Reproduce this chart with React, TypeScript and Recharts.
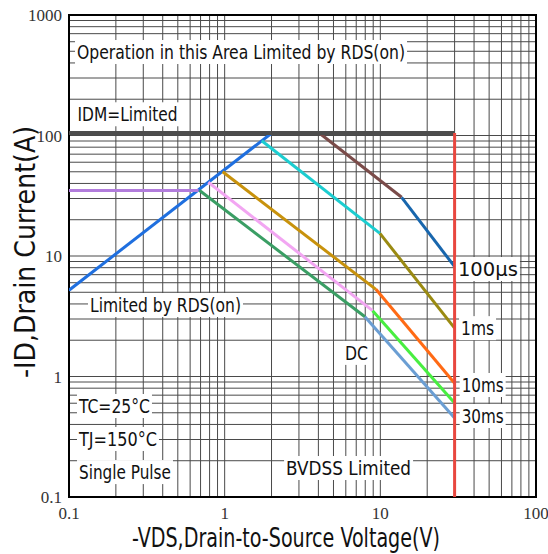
import { LineChart, Line, XAxis, YAxis, CartesianGrid, ReferenceDot, ReferenceArea } from 'recharts'

// log axes: decades plus the 2..9 minor lines inside each decade
const X_DECADES = [0.1, 1, 10, 100]
const X_LABELS = ['0.1', '1', '10', '100']
const Y_DECADES = [0.1, 1, 10, 100, 1000]
const Y_LABELS = ['0.1', '1', '10', '100', '1000']
const MANTISSAS = [1, 2, 3, 4, 5, 6, 7, 8, 9]

const gridFor = (decades: number[]) => {
    const out: number[] = []
    decades.slice(0, -1).forEach((d) => MANTISSAS.forEach((m) => out.push(+(d * m).toPrecision(3))))
    out.push(decades[decades.length - 1])
    return out
}
const X_GRID = gridFor(X_DECADES)
const Y_GRID = gridFor(Y_DECADES)

// boundary lines (V, A)
const idmLimit = [{ v: 0.1, i: 105 }, { v: 30, i: 105 }]
const bvdssLimit = [{ v: 30, i: 105 }, { v: 30, i: 0.1 }]
const rdsLimit = [{ v: 0.1, i: 5.2 }, { v: 2.01, i: 105 }]
const idLimit = [{ v: 0.1, i: 35 }, { v: 0.68, i: 35 }]

// pulse curves, each in two segments
const pulse100usA = [{ v: 4.05, i: 105 }, { v: 13.7, i: 30.7 }]
const pulse100usB = [{ v: 13.7, i: 30.7 }, { v: 30, i: 8.15 }]
const pulse1msA = [{ v: 1.73, i: 90.5 }, { v: 9.94, i: 15.4 }]
const pulse1msB = [{ v: 9.94, i: 15.4 }, { v: 30, i: 2.52 }]
const pulse10msA = [{ v: 0.97, i: 50 }, { v: 9.37, i: 5.29 }]
const pulse10msB = [{ v: 9.37, i: 5.29 }, { v: 30, i: 0.88 }]
const pulse30msA = [{ v: 0.785, i: 40.9 }, { v: 8.92, i: 3.52 }]
const pulse30msB = [{ v: 8.92, i: 3.52 }, { v: 30, i: 0.603 }]
const dcA = [{ v: 0.69, i: 35 }, { v: 7.96, i: 3.13 }]
const dcB = [{ v: 7.96, i: 3.13 }, { v: 30, i: 0.453 }]

const SERIES = [
    { key: 'rds', data: rdsLimit, color: '#1f6fdf', width: 3 },
    { key: 'id', data: idLimit, color: '#b27ddc', width: 3 },
    { key: 'dcA', data: dcA, color: '#3a9e64', width: 3 },
    { key: 'dcB', data: dcB, color: '#6b9ed3', width: 3 },
    { key: 'p30A', data: pulse30msA, color: '#f2a6f2', width: 3 },
    { key: 'p30B', data: pulse30msB, color: '#48ee40', width: 3 },
    { key: 'p10A', data: pulse10msA, color: '#c8920c', width: 3 },
    { key: 'p10B', data: pulse10msB, color: '#ff6a14', width: 3 },
    { key: 'p1A', data: pulse1msA, color: '#1ccdd0', width: 3 },
    { key: 'p1B', data: pulse1msB, color: '#9a8a12', width: 3 },
    { key: 'p100A', data: pulse100usA, color: '#7a4b49', width: 3 },
    { key: 'p100B', data: pulse100usB, color: '#1866ad', width: 3 },
    { key: 'idm', data: idmLimit, color: '#4d4d4d', width: 4 },
    { key: 'bv', data: bvdssLimit, color: '#e8473f', width: 3 }
]

// annotation texts
const NOTE_TEXTS = [
    'Operation in this Area Limited by RDS(on)',
    'IDM=Limited',
    'Limited by RDS(on)',
    'TC=25°C',
    'TJ=150°C',
    'Single Pulse',
    'DC',
    'BVDSS Limited',
    '100µs',
    '1ms',
    '10ms',
    '30ms'
]
// anchor (left edge, vertical middle) in data units, and text width in px
const NOTE_LAYOUT = [
    { v: 0.1126, i: 493, w: 328 },
    { v: 0.1135, i: 150, w: 100 },
    { v: 0.1364, i: 3.92, w: 151 },
    { v: 0.1159, i: 0.569, w: 71 },
    { v: 0.1159, i: 0.303, w: 78 },
    { v: 0.1159, i: 0.161, w: 92 },
    { v: 5.93, i: 1.57, w: 23 },
    { v: 2.48, i: 0.174, w: 125 },
    { v: 31.5, i: 7.8, w: 60 },
    { v: 33, i: 2.52, w: 33 },
    { v: 33.3, i: 0.85, w: 42 },
    { v: 33.3, i: 0.47, w: 42 }
]

const SANS = '"DejaVu Sans Condensed", "Liberation Sans Narrow", "DejaVu Sans", sans-serif'
const SERIF = '"Liberation Serif", "DejaVu Serif", serif'

const XTick = ({ x, y, payload }: any) => {
    const idx = X_DECADES.indexOf(payload.value)
    if (idx < 0) return <g />
    return (
        <text x={x} y={y + 18} textAnchor='middle' fontFamily={SERIF} fontSize={17} fill='#333'>
            {X_LABELS[idx]}
        </text>
    )
}

const YTick = ({ x, y, payload }: any) => {
    const idx = Y_DECADES.indexOf(payload.value)
    if (idx < 0) return <g />
    return (
        <text x={x} y={y + 6} textAnchor='end' fontFamily={SERIF} fontSize={17} fill='#333'>
            {Y_LABELS[idx]}
        </text>
    )
}

const noteShape = (text: string, w: number) => (p: any) => (
    <g>
        <rect x={p.cx - 2} y={p.cy - 12} width={w + 4} height={24} fill='#fff' />
        <text
            x={p.cx}
            y={p.cy + 7}
            fontFamily={SANS}
            fontSize={20}
            fill='#111'
            textLength={w}
            lengthAdjust='spacingAndGlyphs'
        >
            {text}
        </text>
    </g>
)

export default function App() {
    return (
        <div style={{ position: 'absolute', left: 0, top: 0, width: 548, height: 554, background: '#fff' }}>
            <LineChart width={548} height={554} margin={{ top: 15, right: 12, bottom: 0, left: 0 }}>
                <CartesianGrid stroke='#4a4a4a' strokeWidth={1} />
                <XAxis
                    dataKey='v'
                    type='number'
                    scale='log'
                    domain={[0.1, 100]}
                    ticks={X_GRID}
                    allowDataOverflow
                    axisLine={false}
                    tickLine={false}
                    tickSize={0}
                    tickMargin={4}
                    height={57}
                    interval={0}
                    tick={<XTick />}
                />
                <YAxis
                    dataKey='i'
                    type='number'
                    scale='log'
                    domain={[0.1, 1000]}
                    ticks={Y_GRID}
                    allowDataOverflow
                    axisLine={false}
                    tickLine={false}
                    tickSize={0}
                    tickMargin={7}
                    width={69}
                    interval={0}
                    tick={<YTick />}
                />
                {SERIES.map((s) => (
                    <Line
                        key={s.key}
                        data={s.data}
                        dataKey='i'
                        stroke={s.color}
                        strokeWidth={s.width}
                        dot={false}
                        activeDot={false}
                        isAnimationActive={false}
                    />
                ))}
                <ReferenceArea
                    x1={0.1}
                    x2={100}
                    y1={0.1}
                    y2={1000}
                    fill='none'
                    stroke='#000'
                    strokeWidth={2}
                    ifOverflow='visible'
                />
                {NOTE_TEXTS.map((t, k) => (
                    <ReferenceDot
                        key={t}
                        x={NOTE_LAYOUT[k].v}
                        y={NOTE_LAYOUT[k].i}
                        r={0}
                        ifOverflow='visible'
                        shape={noteShape(t, NOTE_LAYOUT[k].w)}
                    />
                ))}
            </LineChart>
            <svg
                width={548}
                height={554}
                style={{ position: 'absolute', left: 0, top: 0, pointerEvents: 'none' }}
            >
                <text
                    x={286}
                    y={547}
                    textAnchor='middle'
                    fontFamily={SANS}
                    fontSize={26}
                    fill='#111'
                    textLength={308}
                    lengthAdjust='spacingAndGlyphs'
                >
                    -VDS,Drain-to-Source Voltage(V)
                </text>
                <text
                    transform='translate(35,252) rotate(-90)'
                    textAnchor='middle'
                    fontFamily={SANS}
                    fontSize={29}
                    fill='#111'
                    textLength={252}
                    lengthAdjust='spacingAndGlyphs'
                >
                    -ID,Drain Current(A)
                </text>
            </svg>
        </div>
    )
}
